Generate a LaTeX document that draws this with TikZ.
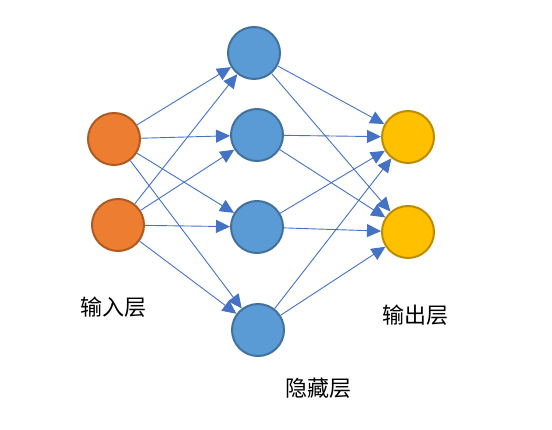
\documentclass[tikz,border=0pt]{standalone}
\usepackage{fontspec}
\newfontfamily\cjk{Noto Sans CJK SC}
\usetikzlibrary{arrows.meta}
\definecolor{inFill}{HTML}{ED7D31}
\definecolor{inLine}{HTML}{AE5A21}
\definecolor{hidFill}{HTML}{5B9BD5}
\definecolor{hidLine}{HTML}{41719C}
\definecolor{outFill}{HTML}{FFC000}
\definecolor{outLine}{HTML}{BC8C00}
\definecolor{edgeBlue}{HTML}{4472C4}
\begin{document}
\begin{tikzpicture}[x=1pt,y=-1pt,
    neuron/.style={circle,line width=2pt,minimum size=52pt,inner sep=0pt},
    innode/.style={neuron,draw=inLine,fill=inFill},
    hidnode/.style={neuron,draw=hidLine,fill=hidFill},
    outnode/.style={neuron,draw=outLine,fill=outFill},
    link/.style={edgeBlue,line width=0.9pt,-{Triangle[length=14pt,width=13pt]}},
    layername/.style={font=\cjk\fontsize{22pt}{26pt}\selectfont,inner sep=0pt}]
    \useasboundingbox (0,0) rectangle (552,430);
    % layers
    \node[innode] (i1) at (114,139) {};
    \node[innode] (i2) at (118,225) {};
    \node[hidnode] (h1) at (254,53) {};
    \node[hidnode] (h2) at (257,135) {};
    \node[hidnode] (h3) at (257,227) {};
    \node[hidnode] (h4) at (258,330) {};
    \node[outnode] (o1) at (408,137) {};
    \node[outnode] (o2) at (408,232) {};%
    % input -> hidden
    \draw[link] (i1) -- (h1);
    \draw[link] (i1) -- (h2);
    \draw[link] (i1) -- (h3);
    \draw[link] (i1) -- (h4);
    \draw[link] (i2) -- (h1);
    \draw[link] (i2) -- (h2);
    \draw[link] (i2) -- (h3);
    \draw[link] (i2) -- (h4);%
    % hidden -> output
    \draw[link] (h1) -- (o1);
    \draw[link] (h1) -- (o2);
    \draw[link] (h2) -- (o1);
    \draw[link] (h2) -- (o2);
    \draw[link] (h3) -- (o1);
    \draw[link] (h3) -- (o2);
    \draw[link] (h4) -- (o1);
    \draw[link] (h4) -- (o2);%
    % labels
    \node[layername] (inname) at (113,307) {输入层};
    \node[layername] (hidname) at (318,388) {隐藏层};
    \node[layername] (outname) at (415,315) {输出层};
\end{tikzpicture}
\end{document}
